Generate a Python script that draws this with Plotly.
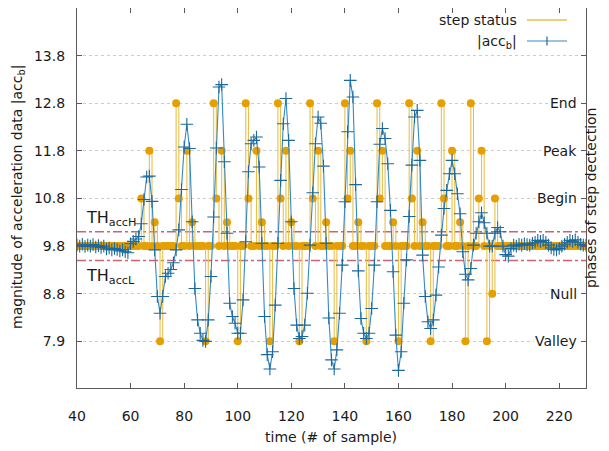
import plotly.graph_objects as go

# ---------------- data ----------------
sample = list(range(40, 231))

acc_b = [
    9.82, 9.80, 9.84, 9.79, 9.82, 9.80, 9.83, 9.78, 9.81, 9.77,   # 40-49
    9.80, 9.74, 9.76, 9.72, 9.75, 9.73, 9.70, 9.72, 9.68, 9.66,   # 50-59
    9.85, 9.90, 9.95, 10.00, 10.27, 10.78, 11.25, 11.27, 10.74, 9.72,  # 60-69
    8.74, 8.39, 8.74, 9.16, 9.23, 9.31, 9.45, 9.72, 10.14, 10.99,  # 70-79
    11.88, 12.36, 11.85, 10.31, 8.91, 8.25, 7.97, 7.82, 7.80, 8.25,  # 80-89
    9.16, 10.41, 11.86, 13.14, 13.19, 11.57, 10.07, 8.60, 8.32, 8.18,  # 90-99
    7.97, 7.97, 8.67, 9.89, 11.36, 11.95, 12.02, 12.09, 11.46, 9.86,  # 100-109
    8.32, 7.52, 7.22, 7.58, 8.56, 9.86, 11.18, 12.37, 12.90, 12.02,  # 110-119
    10.31, 8.91, 8.14, 7.86, 7.90, 8.14, 8.81, 9.82, 10.92, 11.95,  # 120-129
    12.51, 12.38, 11.48, 9.86, 8.29, 7.41, 7.22, 7.62, 8.39, 9.40,  # 130-139
    10.73, 12.20, 13.28, 12.93, 11.09, 9.28, 8.28, 7.97, 7.86, 7.97,  # 140-149
    8.49, 9.40, 10.73, 11.94, 12.27, 12.06, 11.53, 10.55, 9.26, 7.93,  # 150-159
    7.19, 7.58, 8.60, 9.51, 10.42, 11.50, 12.51, 12.65, 11.60, 9.61,  # 160-169
    8.74, 8.21, 8.07, 8.25, 8.77, 9.36, 10.03, 10.59, 10.97, 11.32,  # 170-179
    11.60, 11.32, 10.90, 10.48, 9.68, 9.21, 9.09, 9.33, 9.82, 10.07,  # 180-189
    10.31, 10.50, 10.29, 10.07, 9.80, 9.80, 10.07, 10.19, 10.10, 9.80,  # 190-199
    9.62, 9.59, 9.75, 9.82, 9.80, 9.84, 9.82, 9.85, 9.83, 9.82,   # 200-209
    9.86, 9.88, 9.92, 9.90, 9.92, 9.88, 9.82, 9.76, 9.73, 9.72,   # 210-219
    9.75, 9.80, 9.84, 9.88, 9.92, 9.90, 9.93, 9.88, 9.84, 9.82, 9.82,  # 220-230
]

# step status: baseline level everywhere except at these samples
status_baseline = 9.8
status_event_x = [64, 67, 69, 71,
                  77, 78, 81, 83, 88,
                  91, 92, 94, 96, 100,
                  103, 104, 107, 109, 112,
                  115, 116, 118, 120, 123,
                  127, 128, 130, 133, 136,
                  140, 141, 142, 145, 148,
                  152, 153, 154, 158, 160,
                  164, 165, 167, 169, 172,
                  176, 177, 180, 183, 185,
                  187, 190, 191, 193, 195, 196]
status_event_y = [10.8, 11.8, 10.3, 7.8,
                  12.8, 10.8, 11.8, 10.3, 7.8,
                  12.8, 10.8, 11.8, 10.3, 7.8,
                  12.8, 10.8, 11.8, 10.3, 7.8,
                  12.8, 10.8, 11.8, 10.3, 7.8,
                  12.8, 10.8, 11.8, 10.3, 7.8,
                  12.8, 10.8, 11.8, 10.3, 7.8,
                  12.8, 10.8, 11.8, 10.3, 7.8,
                  12.8, 10.8, 11.8, 10.3, 7.8,
                  12.8, 10.8, 11.8, 10.3, 7.8,
                  12.8, 10.8, 11.8, 7.8, 8.8, 10.8]

x_ticks = [40, 60, 80, 100, 120, 140, 160, 180, 200, 220]
y_tickvals = [7.8, 8.8, 9.8, 10.8, 11.8, 12.8, 13.8]
y_ticktext = ["7.9", "8.8", "9.8", "10.8", "11.8", "12.8", "13.8"]
phase_levels = [12.8, 11.8, 10.8, 8.8, 7.8]
phase_names = ["End", "Peak", "Begin", "Null", "Valley"]
th_acc_high = 10.1
th_acc_low = 9.5

# ---------------- build ----------------
ev = dict(zip(status_event_x, status_event_y))
step_status = [ev.get(s, status_baseline) for s in sample]

FONT = "DejaVu Sans"
TXT = "#1a1a1a"
ORANGE = "#e69f00"
YLINE = "#e9c050"
BLUE_LINE = "#3389c4"
BLUE_MARK = "#1b689d"
AXC = "#5a5a5a"

# page offset of the figure (default body margin of the html page)
OFF = 8
W, H = 609 - OFF, 451 - OFF
# plot area in page pixels
L, R, T, B = 77, 586, 8, 388


def px(xp):
    return (xp - L) / (R - L)


def py(yp):
    return (B - yp) / (B - T)


fig = go.Figure()
fig.add_trace(go.Scatter(
    x=sample, y=step_status, mode="lines+markers", name="step status",
    line=dict(color=YLINE, width=1.1, shape="hv"),
    marker=dict(color=ORANGE, size=8, line=dict(width=0)),
    showlegend=False))
fig.add_trace(go.Scatter(
    x=sample, y=acc_b, mode="lines+markers", name="|acc_b|",
    line=dict(color=BLUE_LINE, width=1.1),
    marker=dict(symbol="cross-thin", size=9, color=BLUE_MARK,
                line=dict(color=BLUE_MARK, width=1.1)),
    showlegend=False))

shapes = []
for th in (th_acc_high, th_acc_low):
    shapes.append(dict(type="line", xref="paper", x0=0, x1=1, yref="y", y0=th, y1=th,
                       line=dict(color="#cc6472", width=1.5, dash="dashdot"), layer="below"))

# manual gnuplot-style key
shapes.append(dict(type="line", xref="paper", yref="paper", x0=px(527), x1=px(567),
                   y0=py(20), y1=py(20), line=dict(color=YLINE, width=1.5)))
shapes.append(dict(type="line", xref="paper", yref="paper", x0=px(527), x1=px(567),
                   y0=py(41), y1=py(41), line=dict(color=BLUE_LINE, width=1.2)))
shapes.append(dict(type="line", xref="paper", yref="paper", x0=px(547), x1=px(547),
                   y0=py(36.5), y1=py(45.5), line=dict(color=BLUE_MARK, width=1.2)))

annotations = [
    dict(text="step status", xref="paper", yref="paper", x=px(519), y=py(20),
         xanchor="right", yanchor="middle", showarrow=False, font=dict(family=FONT, size=14, color=TXT)),
    dict(text="|acc<sub>b</sub>|", xref="paper", yref="paper", x=px(519), y=py(42),
         xanchor="right", yanchor="middle", showarrow=False, font=dict(family=FONT, size=14, color=TXT)),
    dict(text="time (# of sample)", xref="paper", yref="paper", x=px(331), y=py(437),
         xanchor="center", yanchor="middle", showarrow=False, font=dict(family=FONT, size=14, color=TXT)),
    dict(text="magnitude of acceleration data |acc<sub>b</sub>|", xref="paper", yref="paper",
         x=px(18), y=py(197), textangle=-90, xanchor="center", yanchor="middle", showarrow=False,
         font=dict(family=FONT, size=14, color=TXT)),
    dict(text="phases of step dectection", xref="paper", yref="paper",
         x=px(591), y=py(198), textangle=-90, xanchor="center", yanchor="middle", showarrow=False,
         font=dict(family=FONT, size=14, color=TXT)),
    dict(text="TH<sub>accH</sub>", xref="x", yref="y", x=42.6, y=10.38,
         xanchor="left", yanchor="middle", showarrow=False, font=dict(family=FONT, size=16, color=TXT)),
    dict(text="TH<sub>accL</sub>", xref="x", yref="y", x=42.6, y=9.17,
         xanchor="left", yanchor="middle", showarrow=False, font=dict(family=FONT, size=16, color=TXT)),
]
for lvl, name in zip(phase_levels, phase_names):
    annotations.append(dict(text=name, xref="paper", yref="y", x=1, y=lvl, xanchor="right",
                            yanchor="middle", xshift=-7, showarrow=False, bgcolor="white",
                            borderpad=1, font=dict(family=FONT, size=14, color=TXT)))

fig.update_layout(
    width=W, height=H,
    margin=dict(l=L - OFF, r=W - (R - OFF), t=T - OFF, b=H - (B - OFF), pad=0, autoexpand=False),
    paper_bgcolor="white", plot_bgcolor="white",
    shapes=shapes, annotations=annotations,
    showlegend=False,
    xaxis=dict(range=[40, 230], tickvals=x_ticks, ticks="inside", ticklen=5, tickcolor=AXC,
               mirror="allticks", showline=True, linecolor=AXC, linewidth=1.3,
               showgrid=False, zeroline=False, ticklabelstandoff=15, automargin=False,
               tickfont=dict(family=FONT, size=14, color=TXT)),
    yaxis=dict(range=[6.82, 14.8], tickvals=y_tickvals, ticktext=y_ticktext,
               ticks="inside", ticklen=5, tickcolor=AXC,
               mirror="allticks", showline=True, linecolor=AXC, linewidth=1.3,
               showgrid=True, gridcolor="#cccccc", griddash="3px,3px", gridwidth=1,
               zeroline=False, ticklabelstandoff=8, automargin=False,
               tickfont=dict(family=FONT, size=14, color=TXT)),
)

fig.write_html("out.html")
